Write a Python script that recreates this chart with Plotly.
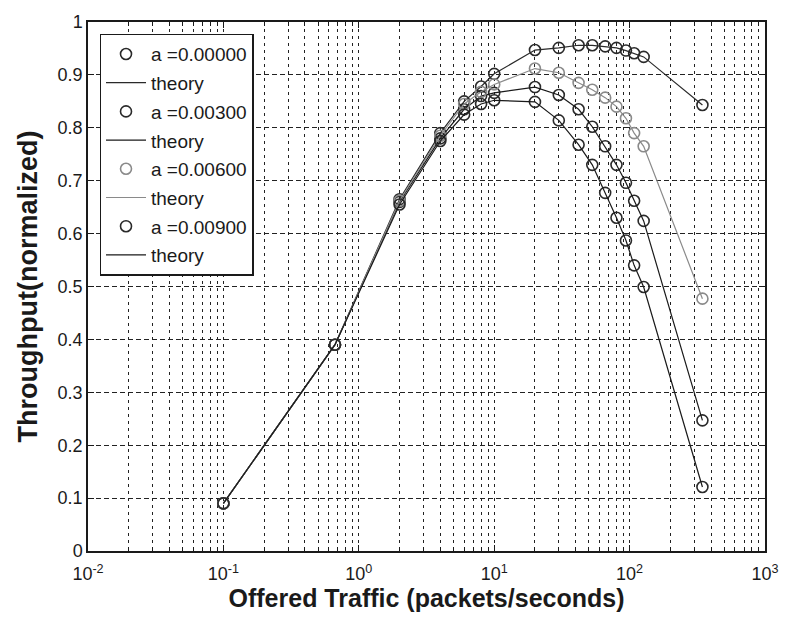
import plotly.graph_objects as go

# Offered traffic (packets/seconds)
offered = [0.1, 0.667, 2, 4, 6, 8, 10, 20, 30, 42, 53, 66, 80, 94, 108, 127, 345]

# Throughput (normalized) per series
thr_a000 = [0.09, 0.39, 0.665, 0.79, 0.85, 0.878, 0.902, 0.947, 0.951, 0.956, 0.956, 0.954, 0.951, 0.946, 0.941, 0.934, 0.843]
thr_a003 = [0.09, 0.39, 0.66, 0.78, 0.835, 0.86, 0.866, 0.877, 0.862, 0.835, 0.802, 0.765, 0.73, 0.696, 0.662, 0.624, 0.247]
thr_a006 = [0.09, 0.39, 0.662, 0.785, 0.845, 0.868, 0.882, 0.912, 0.904, 0.885, 0.872, 0.857, 0.84, 0.818, 0.79, 0.765, 0.477]
thr_a009 = [0.09, 0.39, 0.655, 0.775, 0.825, 0.845, 0.852, 0.849, 0.814, 0.768, 0.73, 0.677, 0.63, 0.587, 0.54, 0.499, 0.121]

labels = ["a =0.00000", "a =0.00300", "a =0.00600", "a =0.00900"]
series = [thr_a000, thr_a003, thr_a006, thr_a009]
marker_colors = ["#2a2a2a", "#2a2a2a", "#8a8a8a", "#2a2a2a"]
line_colors = ["#2a2a2a", "#1a1a1a", "#8a8a8a", "#1a1a1a"]

x_tickvals = [0.01, 0.1, 1, 10, 100, 1000]
x_ticktext = ["10<sup>-2</sup>", "10<sup>-1</sup>", "10<sup>0</sup>", "10<sup>1</sup>", "10<sup>2</sup>", "10<sup>3</sup>"]

fig = go.Figure()
for i, (lab, ys) in enumerate(zip(labels, series)):
    fig.add_trace(go.Scatter(
        x=offered, y=ys, mode="markers", name=lab,
        legendgroup=f"m{i}",
        marker=dict(symbol="circle-open", size=11, color=marker_colors[i],
                    line=dict(width=1.6, color=marker_colors[i])),
    ))
    fig.add_trace(go.Scatter(
        x=offered, y=ys, mode="lines", name="theory",
        legendgroup=f"l{i}",
        line=dict(color=line_colors[i], width=1.2),
    ))

grid_common = dict(gridcolor="#222", gridwidth=1)

fig.update_layout(
    width=791, height=626,
    margin=dict(l=88, r=23, t=18, b=75),
    paper_bgcolor="white", plot_bgcolor="white",
    font=dict(family="Liberation Sans, Arial, sans-serif", color="#1a1a1a", size=18),
    showlegend=True,
    legend=dict(
        x=0.017, y=0.978, xanchor="left", yanchor="top",
        bgcolor="white", bordercolor="#1a1a1a", borderwidth=1.5,
        font=dict(size=19, color="#1a1a1a"),
        traceorder="grouped", tracegroupgap=1,
        itemwidth=40,
    ),
    xaxis=dict(
        type="log", range=[-2, 3],
        tickvals=x_tickvals, ticktext=x_ticktext,
        ticks="inside", ticklen=6, tickcolor="#1a1a1a",
        ticklabelstandoff=6,
        showline=True, linecolor="#1a1a1a", linewidth=1.5, mirror="allticks",
        showgrid=True, griddash="3px,4px", **grid_common,
        minor=dict(dtick="D1", ticks="inside", ticklen=4, tickcolor="#1a1a1a",
                   showgrid=True, griddash="3px,4px", gridcolor="#222", gridwidth=1),
        title=dict(text="<b>Offered Traffic (packets/seconds)</b>", font=dict(size=25), standoff=4),
        tickfont=dict(size=18),
        zeroline=False,
    ),
    yaxis=dict(
        range=[0, 1], dtick=0.1,
        ticks="inside", ticklen=6, tickcolor="#1a1a1a",
        showline=True, linecolor="#1a1a1a", linewidth=1.5, mirror="allticks",
        showgrid=True, griddash="5px,3px", **grid_common,
        title=dict(text="<b>Throughput(normalized)</b>", font=dict(size=27), standoff=12),
        tickfont=dict(size=18),
        zeroline=False,
    ),
)

fig.write_html("out.html")
